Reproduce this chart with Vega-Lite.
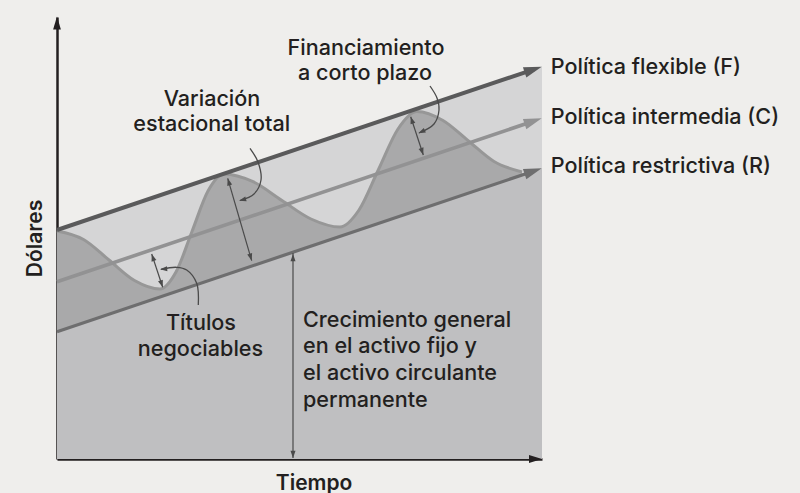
{
  "$schema": "https://vega.github.io/schema/vega-lite/v6.json",
  "autosize": "none",
  "width": 485,
  "height": 442,
  "padding": {"left": 57, "top": 17, "right": 258, "bottom": 34},
  "background": "#efeeec",
  "config": {
    "view": {"stroke": null},
    "text": {"font": "Inter", "fontWeight": 500, "fontSize": 21.6, "color": "#231f20"}
  },
  "datasets": {
    "bands": [
      {"x": 0, "f": 229, "r": 127.3},
      {"x": 485, "f": 392.4, "r": 290.7}
    ],
    "lines": [
      {"series": "F", "x": 0, "y": 229}, {"series": "F", "x": 477, "y": 389.7},
      {"series": "C", "x": 0, "y": 177.3}, {"series": "C", "x": 477, "y": 338},
      {"series": "R", "x": 0, "y": 127.3}, {"series": "R", "x": 477, "y": 288}
    ],
    "wave": [
      {"x": 0, "y": 228}, {"x": 26.5, "y": 219.5}, {"x": 52, "y": 199}, {"x": 77.5, "y": 178.5},
      {"x": 103, "y": 170}, {"x": 119, "y": 187}, {"x": 135, "y": 227.5}, {"x": 151, "y": 268},
      {"x": 167, "y": 285}, {"x": 196, "y": 277.3}, {"x": 225, "y": 258.5}, {"x": 254, "y": 240},
      {"x": 283, "y": 232}, {"x": 302, "y": 249}, {"x": 321.5, "y": 289.5}, {"x": 341, "y": 330},
      {"x": 360, "y": 347.5}, {"x": 386, "y": 338.5}, {"x": 411.5, "y": 318}, {"x": 437, "y": 297.5},
      {"x": 465, "y": 287}
    ],
    "dims": [
      {"id": "crec", "x": 236, "y": 206}, {"id": "crec", "x": 236, "y": 1},
      {"id": "var", "x": 170.7, "y": 280.7}, {"id": "var", "x": 194.7, "y": 198.3},
      {"id": "fin", "x": 353.7, "y": 342.3}, {"id": "fin", "x": 366.3, "y": 304},
      {"id": "tit", "x": 94.7, "y": 205}, {"id": "tit", "x": 105.7, "y": 171.7}
    ],
    "callouts": [
      {"id": "var", "i": 0, "x": 193, "y": 310.7}, {"id": "var", "i": 1, "x": 201, "y": 297},
      {"id": "var", "i": 2, "x": 204, "y": 279}, {"id": "var", "i": 3, "x": 197, "y": 265},
      {"id": "var", "i": 4, "x": 183, "y": 258.5},
      {"id": "fin", "i": 0, "x": 373, "y": 373}, {"id": "fin", "i": 1, "x": 380, "y": 361},
      {"id": "fin", "i": 2, "x": 382, "y": 349}, {"id": "fin", "i": 3, "x": 377, "y": 335},
      {"id": "fin", "i": 4, "x": 362, "y": 326},
      {"id": "tit", "i": 0, "x": 141.3, "y": 154}, {"id": "tit", "i": 1, "x": 139.7, "y": 175.7},
      {"id": "tit", "i": 2, "x": 129.7, "y": 189}, {"id": "tit", "i": 3, "x": 119.7, "y": 191.7},
      {"id": "tit", "i": 4, "x": 104, "y": 189.7}
    ],
    "heads": [
      {"kind": "line", "series": "F", "x": 484.7, "y": 392.3, "heading": 341.4},
      {"kind": "line", "series": "C", "x": 484.7, "y": 340.7, "heading": 341.4},
      {"kind": "line", "series": "R", "x": 484.7, "y": 290.7, "heading": 341.4},
      {"kind": "axis", "x": 485, "y": 0, "heading": 0},
      {"kind": "axis", "x": 0, "y": 442.5, "heading": 270},
      {"kind": "small", "x": 236, "y": 205, "heading": 270},
      {"kind": "small", "x": 236, "y": 1, "heading": 90},
      {"kind": "small", "x": 170.7, "y": 280.7, "heading": 253.8},
      {"kind": "small", "x": 194.7, "y": 198.3, "heading": 73.8},
      {"kind": "small", "x": 353.7, "y": 342.3, "heading": 251.8},
      {"kind": "small", "x": 366.3, "y": 304, "heading": 71.8},
      {"kind": "small", "x": 94.7, "y": 205, "heading": 251.7},
      {"kind": "small", "x": 105.7, "y": 171.7, "heading": 71.7},
      {"kind": "small", "x": 182, "y": 258.3, "heading": 165},
      {"kind": "small", "x": 361.3, "y": 325.7, "heading": 155},
      {"kind": "small", "x": 103, "y": 189.7, "heading": 175}
    ],
    "labelsCenter": [
      {"text": "Financiamiento", "x": 309, "y": 404},
      {"text": "a corto plazo", "x": 308, "y": 379},
      {"text": "Variación", "x": 155, "y": 353},
      {"text": "estacional total", "x": 154.7, "y": 328.3},
      {"text": "Títulos", "x": 144, "y": 129},
      {"text": "negociables", "x": 143.5, "y": 103}
    ],
    "labelsLeft": [
      {"text": "Crecimiento general", "x": 246, "y": 132.3},
      {"text": "en el activo fijo y", "x": 246, "y": 105.7},
      {"text": "el activo circulante", "x": 246, "y": 79},
      {"text": "permanente", "x": 246, "y": 52.3},
      {"text": "Política flexible (F)", "x": 493.7, "y": 385},
      {"text": "Política intermedia (C)", "x": 493.7, "y": 335},
      {"text": "Política restrictiva (R)", "x": 493.7, "y": 285.7}
    ]
  },
  "layer": [
    {
      "data": {"name": "bands"},
      "mark": {"type": "area", "color": "#d5d5d6", "clip": false},
      "encoding": {
        "x": {"field": "x", "type": "quantitative", "scale": {"domain": [0, 485], "nice": false},
              "axis": {"title": "Tiempo", "labels": false, "ticks": false, "grid": false,
                       "domainColor": "#231f20", "domainWidth": 2.5,
                       "titleFont": "Inter", "titleFontWeight": 600, "titleFontSize": 21, "titleColor": "#231f20",
                       "titleX": 256.6, "titleY": 30.5, "titleBaseline": "alphabetic", "titleAlign": "center"}},
        "y": {"field": "f", "type": "quantitative", "stack": null, "scale": {"domain": [0, 442], "nice": false},
              "axis": {"title": "Dólares", "labels": false, "ticks": false, "grid": false,
                       "domainColor": "#231f20", "domainWidth": 2.5,
                       "titleFont": "Inter", "titleFontWeight": 600, "titleFontSize": 21, "titleColor": "#231f20",
                       "titleX": -15.5, "titleY": 221, "titleBaseline": "alphabetic", "titleAlign": "center", "titleAngle": -90}}
      }
    },
    {
      "data": {"name": "wave"},
      "mark": {"type": "area", "color": "#a9a9aa", "interpolate": "monotone"},
      "encoding": {
        "x": {"field": "x", "type": "quantitative"},
        "y": {"field": "y", "type": "quantitative", "stack": null}
      }
    },
    {
      "data": {"name": "bands"},
      "mark": {"type": "area", "color": "#bfbfc1"},
      "encoding": {
        "x": {"field": "x", "type": "quantitative"},
        "y": {"field": "r", "type": "quantitative", "stack": null}
      }
    },
    {
      "data": {"name": "wave"},
      "mark": {"type": "line", "color": "#979797", "strokeWidth": 3, "interpolate": "monotone"},
      "encoding": {
        "x": {"field": "x", "type": "quantitative"},
        "y": {"field": "y", "type": "quantitative"}
      }
    },
    {
      "data": {"name": "lines"},
      "mark": {"type": "line"},
      "encoding": {
        "x": {"field": "x", "type": "quantitative"},
        "y": {"field": "y", "type": "quantitative"},
        "color": {"field": "series", "type": "nominal", "legend": null,
                  "scale": {"domain": ["F", "C", "R"], "range": ["#5a5a5b", "#929293", "#6e6e6f"]}},
        "strokeWidth": {"field": "series", "type": "nominal", "legend": null,
                  "scale": {"domain": ["F", "C", "R"], "range": [4, 3.2, 4]}}
      }
    },
    {
      "data": {"name": "dims"},
      "mark": {"type": "line", "color": "#4a4a4a", "strokeWidth": 1.2},
      "encoding": {
        "x": {"field": "x", "type": "quantitative"},
        "y": {"field": "y", "type": "quantitative"},
        "detail": {"field": "id"}
      }
    },
    {
      "data": {"name": "callouts"},
      "mark": {"type": "line", "color": "#4a4a4a", "strokeWidth": 1.3, "interpolate": "catmull-rom"},
      "encoding": {
        "x": {"field": "x", "type": "quantitative"},
        "y": {"field": "y", "type": "quantitative"},
        "detail": {"field": "id"},
        "order": {"field": "i", "type": "quantitative"}
      }
    },
    {
      "data": {"name": "heads"},
      "transform": [{"filter": "datum.kind === 'line'"}],
      "mark": {"type": "point", "shape": "M0,0L-2,-0.6L-2,0.6Z", "filled": true, "opacity": 1, "size": 324, "strokeWidth": 0},
      "encoding": {
        "x": {"field": "x", "type": "quantitative"},
        "y": {"field": "y", "type": "quantitative"},
        "angle": {"field": "heading", "type": "quantitative", "scale": null},
        "color": {"field": "series", "type": "nominal", "legend": null,
                  "scale": {"domain": ["F", "C", "R"], "range": ["#5a5a5b", "#929293", "#6e6e6f"]}}
      }
    },
    {
      "data": {"name": "heads"},
      "transform": [{"filter": "datum.kind === 'axis'"}],
      "mark": {"type": "point", "shape": "M0,0L-2,-0.6L-2,0.6Z", "filled": true, "opacity": 1, "size": 169, "strokeWidth": 0, "color": "#231f20"},
      "encoding": {
        "x": {"field": "x", "type": "quantitative"},
        "y": {"field": "y", "type": "quantitative"},
        "angle": {"field": "heading", "type": "quantitative", "scale": null}
      }
    },
    {
      "data": {"name": "heads"},
      "transform": [{"filter": "datum.kind === 'small'"}],
      "mark": {"type": "point", "shape": "M0,0L-2,-0.7L-2,0.7Z", "filled": true, "opacity": 1, "size": 52, "strokeWidth": 0, "color": "#4a4a4a"},
      "encoding": {
        "x": {"field": "x", "type": "quantitative"},
        "y": {"field": "y", "type": "quantitative"},
        "angle": {"field": "heading", "type": "quantitative", "scale": null}
      }
    },
    {
      "data": {"name": "labelsCenter"},
      "mark": {"type": "text", "align": "center", "baseline": "alphabetic"},
      "encoding": {
        "x": {"field": "x", "type": "quantitative"},
        "y": {"field": "y", "type": "quantitative"},
        "text": {"field": "text"}
      }
    },
    {
      "data": {"name": "labelsLeft"},
      "mark": {"type": "text", "align": "left", "baseline": "alphabetic"},
      "encoding": {
        "x": {"field": "x", "type": "quantitative"},
        "y": {"field": "y", "type": "quantitative"},
        "text": {"field": "text"}
      }
    }
  ]
}
